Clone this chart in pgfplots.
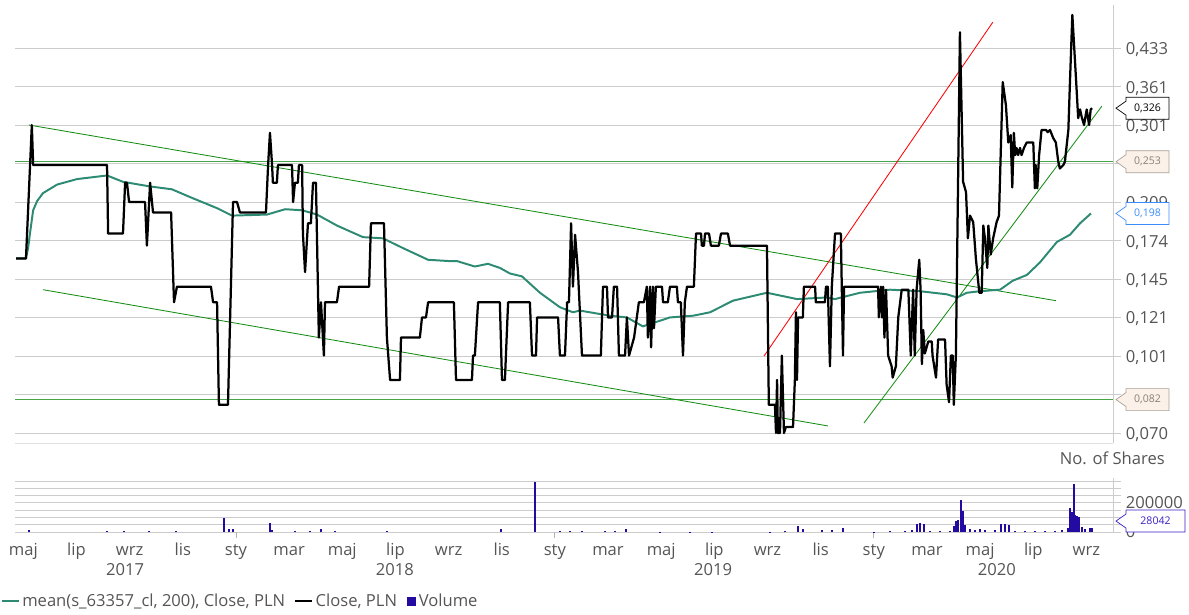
\documentclass[border=0pt]{standalone}
\usepackage{pgfplots}
\pgfplotsset{compat=1.18}
\usepackage{fontspec}
\setmainfont{Open Sans}

\definecolor{maColor}{RGB}{46,139,115}
\definecolor{trendGreen}{RGB}{20,140,20}
\definecolor{hGreen}{RGB}{70,165,70}
\definecolor{volColor}{RGB}{35,10,160}
\definecolor{gridGray}{RGB}{204,204,204}
\definecolor{labelGray}{RGB}{85,85,85}
\definecolor{beigeFill}{RGB}{251,241,232}
\definecolor{beigeDraw}{RGB}{170,160,150}
\definecolor{beigeText}{RGB}{140,125,115}
\definecolor{blueBox}{RGB}{60,140,250}
\definecolor{indigoBox}{RGB}{60,30,200}

\newcommand{\lblfont}{\fontsize{11.8}{14}\selectfont}

% callout: #1 coordinate name (right edge of axis), #2 text, #3 border, #4 fill, #5 text colour, #6 box width
\newcommand{\callout}[6]{%
  \draw[#3, fill=#4, line width=0.5pt] ([xshift=0.75mm]#1) -- ++(2.5mm,1.75mm) -- ++(0,1mm)
    -- ++(#6,0) -- ++(0,-5.5mm) -- ++(-#6,0) -- ++(0,1mm) -- cycle;
  \node[text=#5, font=\fontsize{7.5}{9}\selectfont, inner sep=0] at ([xshift=3.25mm+0.5*#6]#1) {#2};
}

\begin{document}
\begin{tikzpicture}
\path[use as bounding box] (0,0) rectangle (297.25mm,-153.5mm);

% ---------- price panel ----------
\begin{axis}[
  name=main,
  at={(3.75mm,-1.25mm)}, anchor=north west,
  width=274.5mm, height=109.5mm, scale only axis,
  xmin=3.687, xmax=45.0,
  ymode=log, ymin=0.06677, ymax=0.5313,
  axis x line=none,
  axis y line*=right,
  axis line style={draw=gridGray},
  ytick={0.0700,0.0840,0.1008,0.1210,0.1452,0.1742,0.2090,0.2508,0.3010,0.3612,0.4334},
  yticklabels={{0,070},{},{0,101},{0,121},{0,145},{0,174},{0,209},{},{0,301},{0,361},{0,433}},
  minor y tick num=0,
  ymajorgrids,
  grid style={draw=gridGray, line width=0.6pt},
  tick align=outside,
  major tick length=2mm,
  y tick style={draw=gridGray, line width=0.6pt},
  yticklabel style={anchor=west, yshift=-0.4mm, font=\lblfont, text=labelGray},
  line join=round,
]
% horizontal support / resistance
\addplot[hGreen, line width=0.9pt] coordinates {(3.687,0.253) (45.0,0.253)};
\addplot[hGreen, line width=0.9pt] coordinates {(3.687,0.082) (45.0,0.082)};
% channel lines
\addplot[trendGreen, line width=0.6pt] coordinates {(4.21,0.301) (42.85,0.131)};
\addplot[trendGreen, line width=0.6pt] coordinates {(4.74,0.138) (34.27,0.0724)};
\addplot[red, line width=0.6pt] coordinates {(31.87,0.1008) (40.48,0.490)};
\addplot[trendGreen, line width=0.6pt] coordinates {(35.63,0.0734) (44.58,0.329)};

% mean(s_63357_cl, 200)
\addplot[maColor, line width=1.4pt] coordinates {
(3.73,0.160) (4.10,0.160) (4.18,0.168) (4.25,0.180) (4.37,0.201) (4.52,0.210)
(4.74,0.218) (5.27,0.227) (6.02,0.233) (7.15,0.237) (7.75,0.230) (8.77,0.225)
(9.59,0.222) (10.27,0.214) (11.29,0.203) (11.85,0.196) (13.17,0.197) (13.85,0.202)
(14.49,0.201) (15.05,0.197) (15.80,0.187) (16.78,0.177) (17.53,0.176) (18.29,0.168)
(19.23,0.159) (20.05,0.158) (20.32,0.158) (20.99,0.154) (21.48,0.156) (21.93,0.153)
(22.31,0.149) (22.76,0.147) (23.44,0.136) (24.19,0.127) (24.68,0.124) (24.94,0.125)
(26.07,0.122) (26.71,0.121) (27.31,0.116) (28.33,0.121) (29.20,0.122) (29.84,0.124)
(30.70,0.131) (31.72,0.135) (31.98,0.136) (33.11,0.132) (34.24,0.133) (34.54,0.132)
(35.48,0.136) (36.61,0.138) (37.74,0.137) (38.75,0.135) (39.13,0.133) (39.50,0.136)
(39.99,0.137) (40.75,0.138) (41.23,0.144) (41.76,0.148) (42.25,0.157) (42.89,0.173)
(43.38,0.179) (43.76,0.189) (44.17,0.198)
};

% Close, PLN
\addplot[black, line width=1.6pt] coordinates {
(3.73,0.160) (4.10,0.160) (4.32,0.301) (4.37,0.249) (7.15,0.249) (7.19,0.180)
(7.75,0.180) (7.83,0.229) (7.90,0.229) (7.98,0.209) (8.58,0.209) (8.65,0.170)
(8.77,0.229) (8.88,0.199) (9.56,0.199) (9.67,0.130) (9.78,0.140) (11.06,0.140)
(11.14,0.130) (11.29,0.130) (11.36,0.080) (11.70,0.080) (11.89,0.209) (12.04,0.209)
(12.15,0.199) (13.13,0.199) (13.21,0.249) (13.28,0.290) (13.36,0.249) (13.39,0.229)
(13.54,0.229) (13.58,0.249) (14.11,0.249) (14.15,0.209) (14.22,0.229) (14.33,0.229)
(14.37,0.249) (14.49,0.249) (14.52,0.180) (14.60,0.150) (14.71,0.189) (14.82,0.189)
(14.90,0.229) (15.01,0.229) (15.12,0.110) (15.20,0.130) (15.31,0.101) (15.35,0.130)
(15.80,0.130) (15.88,0.140) (17.01,0.140) (17.08,0.189) (17.57,0.189) (17.68,0.110)
(17.80,0.090) (18.17,0.090) (18.21,0.110) (18.92,0.110) (19.00,0.121) (19.15,0.121)
(19.23,0.130) (20.20,0.130) (20.28,0.090) (20.88,0.090) (20.92,0.101) (20.99,0.101)
(21.11,0.130) (21.93,0.130) (22.01,0.090) (22.12,0.090) (22.24,0.130) (23.06,0.130)
(23.14,0.101) (23.29,0.101) (23.33,0.121) (24.12,0.121) (24.19,0.101) (24.38,0.101)
(24.46,0.130) (24.53,0.130) (24.61,0.189) (24.68,0.140) (24.76,0.179) (24.87,0.150)
(25.02,0.101) (25.73,0.101) (25.81,0.140) (25.96,0.140) (26.00,0.121) (26.15,0.121)
(26.22,0.140) (26.34,0.140) (26.41,0.101) (26.64,0.101) (26.71,0.121) (26.79,0.101)
(26.98,0.110) (27.16,0.130) (27.35,0.130) (27.46,0.140) (27.50,0.110) (27.58,0.140)
(27.62,0.105) (27.69,0.140) (27.73,0.115) (27.80,0.140) (28.03,0.140) (28.07,0.130)
(28.25,0.130) (28.33,0.140) (28.59,0.140) (28.63,0.130) (28.74,0.130) (28.82,0.101)
(28.89,0.130) (28.97,0.140) (29.23,0.140) (29.31,0.180) (29.50,0.180) (29.53,0.170)
(29.61,0.170) (29.65,0.180) (29.80,0.180) (29.87,0.170) (30.17,0.170) (30.25,0.180)
(30.51,0.180) (30.59,0.170) (31.98,0.170) (32.05,0.080) (32.28,0.080) (32.32,0.070)
(32.36,0.090) (32.39,0.070) (32.47,0.070) (32.54,0.101) (32.62,0.070) (32.69,0.072)
(32.96,0.072) (33.03,0.090) (33.07,0.124) (33.11,0.090) (33.15,0.121) (33.33,0.121)
(33.37,0.140) (33.79,0.140) (33.82,0.130) (34.16,0.130) (34.20,0.140) (34.27,0.140)
(34.35,0.096) (34.42,0.140) (34.54,0.180) (34.76,0.180) (34.84,0.101) (34.88,0.140)
(36.16,0.140) (36.19,0.121) (36.27,0.140) (36.31,0.121) (36.35,0.140) (36.40,0.110)
(36.46,0.138) (36.54,0.101) (36.67,0.096) (36.71,0.091) (36.83,0.096) (36.92,0.121)
(37.05,0.138) (37.30,0.138) (37.39,0.101) (37.48,0.138) (37.54,0.101) (37.61,0.138)
(37.71,0.159) (37.76,0.138) (37.81,0.097) (37.86,0.114) (37.92,0.102) (38.05,0.108)
(38.18,0.108) (38.21,0.101) (38.34,0.091) (38.42,0.109) (38.68,0.109) (38.74,0.088)
(38.83,0.081) (38.90,0.101) (38.97,0.101) (39.01,0.080) (39.09,0.102) (39.24,0.467)
(39.36,0.230) (39.47,0.219) (39.54,0.176) (39.62,0.196) (39.74,0.190) (39.84,0.160)
(39.97,0.136) (40.06,0.136) (40.12,0.187) (40.18,0.176) (40.27,0.153) (40.31,0.187)
(40.40,0.163) (40.49,0.176) (40.62,0.190) (40.71,0.196) (40.85,0.369) (40.97,0.331)
(41.06,0.277) (41.15,0.287) (41.21,0.224) (41.27,0.290) (41.32,0.261) (41.37,0.270)
(41.43,0.261) (41.50,0.270) (41.56,0.261) (41.65,0.270) (41.75,0.277) (42.00,0.277)
(42.06,0.223) (42.09,0.249) (42.15,0.223) (42.22,0.261) (42.31,0.294) (42.48,0.294)
(42.54,0.291) (42.63,0.294) (42.75,0.283) (42.85,0.277) (42.94,0.253) (43.00,0.245)
(43.13,0.249) (43.19,0.253) (43.32,0.294) (43.38,0.369) (43.47,0.507) (43.60,0.381)
(43.69,0.311) (43.76,0.324) (43.82,0.313) (43.91,0.301) (44.01,0.324) (44.10,0.301)
(44.16,0.324) (44.21,0.326)
};

\draw[gridGray!60, line width=0.6pt] (rel axis cs:0,0) -- (rel axis cs:1,0);
\coordinate (c326) at (axis cs:45.0,0.326);
\coordinate (c253) at (axis cs:45.0,0.253);
\coordinate (c198) at (axis cs:45.0,0.198);
\coordinate (c082) at (axis cs:45.0,0.082);
\end{axis}

% ---------- volume panel ----------
\begin{axis}[
  name=vol,
  at={(3.75mm,-119.5mm)}, anchor=north west,
  width=274.5mm, height=13.5mm, scale only axis,
  xmin=3.687, xmax=45.0,
  ymin=0, ymax=370000,
  axis y line*=right,
  axis x line*=bottom,
  axis line style={draw=gridGray},
  scaled y ticks=false,
  ytick={0,50000,100000,150000,200000,250000,300000,350000},
  yticklabels={0,,,,200000,,,},
  ymajorgrids,
  grid style={draw=gridGray, line width=0.6pt},
  tick align=outside,
  major tick length=2mm,
  y tick style={draw=gridGray, line width=0.6pt},
  yticklabel style={anchor=west, font=\lblfont, text=labelGray},
  xtick={4,6,...,44},
  xticklabels={maj,lip,wrz,lis,sty,mar,maj,lip,wrz,lis,sty,mar,maj,lip,wrz,lis,sty,mar,maj,lip,wrz},
  x tick style={draw=none},
  xticklabel style={anchor=base, yshift=-3.8mm, font=\lblfont, text=labelGray},
  extra x ticks={12,24,36},
  extra x tick labels={},
  extra x tick style={major tick length=1.5mm, x tick style={draw=gray!60, line width=0.6pt}, grid=none},
]
\addplot[ycomb, volColor, line width=1.0pt] coordinates {
(4.21,14000) (7.15,5000) (7.79,5000) (8.73,5000) (9.74,5000)
(11.55,96000) (11.74,20000) (11.89,20000) (13.28,62000) (13.36,12000)
(14.22,4000) (14.79,4000) (15.20,20000) (15.73,4000) (17.68,5000)
(21.97,20000) (23.25,345000) (24.19,4000) (24.57,4000) (25.02,4000)
(25.89,10000) (26.26,10000) (26.68,20000) (27.95,3000) (29.08,3000)
(29.91,3000) (32.09,3000) (32.66,5000) (33.15,41000) (33.33,20000)
(34.05,12000) (34.42,12000) (34.84,27000) (36.00,3000) (36.61,5000)
(37.17,5000) (37.43,12000) (37.62,55000) (37.74,62000) (37.89,55000)
(38.11,6000) (38.49,5000) (38.86,10000) (39.01,40000) (39.09,75000)
(39.17,80000) (39.28,220000) (39.35,145000) (39.43,48000) (39.62,20000)
(39.80,15000) (39.99,20000) (40.18,12000) (40.56,12000) (40.78,55000)
(40.93,55000) (41.08,48000) (41.31,10000) (41.69,8000) (42.06,10000)
(42.44,8000) (42.81,10000) (43.08,12000) (43.30,25000) (43.38,165000)
(43.45,137000) (43.53,330000) (43.57,115000) (43.64,110000) (43.72,100000)
(43.83,34000) (43.94,20000) (44.13,27000) (44.21,28042)
};
\coordinate (y17) at (axis cs:7.83,0);
\coordinate (y18) at (axis cs:17.98,0);
\coordinate (y19) at (axis cs:29.95,0);
\coordinate (y20) at (axis cs:40.63,0);
\coordinate (cvol) at (axis cs:45.0,75000);
\end{axis}

\begin{scope}[font=\lblfont, text=labelGray]
\node[anchor=base] at ([yshift=-10.9mm]y17) {2017};
\node[anchor=base] at ([yshift=-10.9mm]y18) {2018};
\node[anchor=base] at ([yshift=-10.9mm]y19) {2019};
\node[anchor=base] at ([yshift=-10.9mm]y20) {2020};
\node[anchor=base east, inner sep=0] at (291.25mm,-116mm) {No. of Shares};
\end{scope}

% callouts
\callout{c326}{0,326}{black}{white}{black}{10.75mm}
\callout{c253}{0,253}{beigeDraw}{beigeFill}{beigeText}{10.75mm}
\callout{c198}{0,198}{blueBox}{white}{blueBox}{10.75mm}
\callout{c082}{0,082}{beigeDraw}{beigeFill}{beigeText}{10.75mm}
\callout{cvol}{28042}{indigoBox}{white}{indigoBox}{14.75mm}

% legend
\begin{scope}[font=\lblfont, text=labelGray]
\draw[maColor, line width=1.3pt] (0.5mm,-150.25mm) -- (4.75mm,-150.25mm);
\node[anchor=base west, inner sep=0] (l1) at (5.5mm,-151.5mm) {mean(s\_63357\_cl, 200), Close, PLN};
\draw[black, line width=1.3pt] ([xshift=2.5mm,yshift=1.25mm]l1.base east) -- ++(4.25mm,0);
\node[anchor=base west, inner sep=0] (l2) at ([xshift=7.5mm]l1.base east) {Close, PLN};
\fill[volColor] ([xshift=2.5mm]l2.base east) rectangle ++(2.1mm,2.3mm);
\node[anchor=base west, inner sep=0] at ([xshift=5.3mm]l2.base east) {Volume};
\end{scope}
\end{tikzpicture}
\end{document}
